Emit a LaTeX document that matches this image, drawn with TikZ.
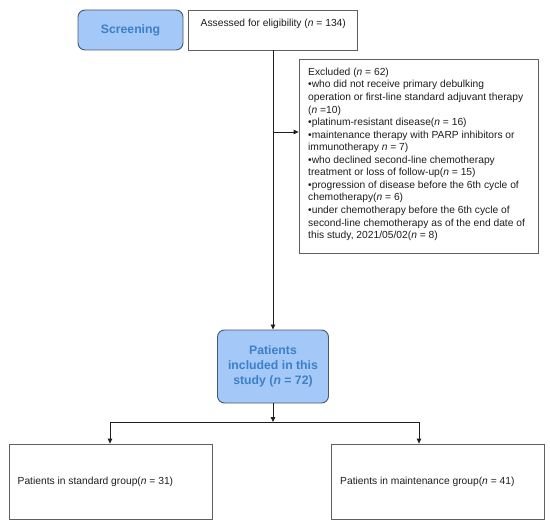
\documentclass[tikz,border=0pt]{standalone}
\usepackage{fontspec}
\setmainfont{Liberation Sans}
\usetikzlibrary{arrows.meta}
\definecolor{bfill}{HTML}{A4C8F7}
\definecolor{btext}{HTML}{3C80C8}
\definecolor{bedge}{HTML}{4A5868}
\definecolor{gedge}{HTML}{606060}
\definecolor{ink}{HTML}{1E1E1E}
\begin{document}
\begin{tikzpicture}[x=1bp,y=-1bp,
  plainbox/.style={draw=gedge, line width=0.8bp, inner sep=0pt, fill=white},
  bluebox/.style={draw=bedge, fill=bfill, rounded corners=7bp, line width=0.9bp, text=btext,
    font=\fontsize{12.3}{15}\selectfont\bfseries, align=center, inner sep=0pt},
  txt/.style={font=\fontsize{10.3}{12.6}\selectfont, text=ink, inner sep=0pt},
  arr/.style={-{Triangle[length=5bp,width=4.5bp]}, line width=0.8bp, draw=ink}]
\useasboundingbox (0,0) rectangle (550,528);
% top row
\node[bluebox, minimum width=105bp, minimum height=40bp] (screen) at (130.5,30) {Screening};
\node[plainbox, minimum width=169bp, minimum height=40bp] (assess) at (273,30) {};
\node[txt, anchor=west] (assesstxt) at (200.5,24) {Assessed for eligibility (\textit{n} = 134)};
% excluded
\node[plainbox, minimum width=239bp, minimum height=194bp] (excl) at (418.5,156) {};
\node[txt, anchor=north west, align=left] (excltxt) at (308,67.8) {Excluded (\textit{n} = 62)\\
•who did not receive primary debulking\\
operation or first-line standard adjuvant therapy\\
(\textit{n} =10)\\
•platinum-resistant disease(\textit{n} = 16)\\
•maintenance therapy with PARP inhibitors or\\
immunotherapy \textit{n} = 7)\\
•who declined second-line chemotherapy\\
treatment or loss of follow-up(\textit{n} = 15)\\
•progression of disease before the 6th cycle of\\
chemotherapy(\textit{n} = 6)\\
•under chemotherapy before the 6th cycle of\\
second-line chemotherapy as of the end date of\\
this study, 2021/05/02(\textit{n} = 8)};
% included
\node[bluebox, minimum width=111bp, minimum height=73bp] (pat) at (273,366.5) {Patients\\included in this\\study (\textit{n} = 72)};
% groups
\node[plainbox, minimum width=202.5bp, minimum height=75bp] (std) at (110.75,481.5) {};
\node[txt, anchor=west] (stdtxt) at (17.5,482) {Patients in standard group(\textit{n} = 31)};
\node[plainbox, minimum width=213bp, minimum height=75bp] (mnt) at (437.5,481.5) {};
\node[txt, anchor=west] (mnttxt) at (340,482) {Patients in maintenance group(\textit{n} = 41)};
% connectors
\draw[arr] (assess.south) -- (pat.north);
\coordinate (branch) at (273,132);
\draw[arr] (branch) -- (branch -| excl.west);
\coordinate (split) at (273,422);
\coordinate (sl) at (110,422);
\coordinate (sr) at (419,422);
\draw[arr] (pat.south) -- (split);
\draw[line width=0.8bp, draw=ink] (sl) -- (sr);
\draw[arr] (sl) -- (sl |- std.north);
\draw[arr] (sr) -- (sr |- mnt.north);
\end{tikzpicture}
\end{document}
